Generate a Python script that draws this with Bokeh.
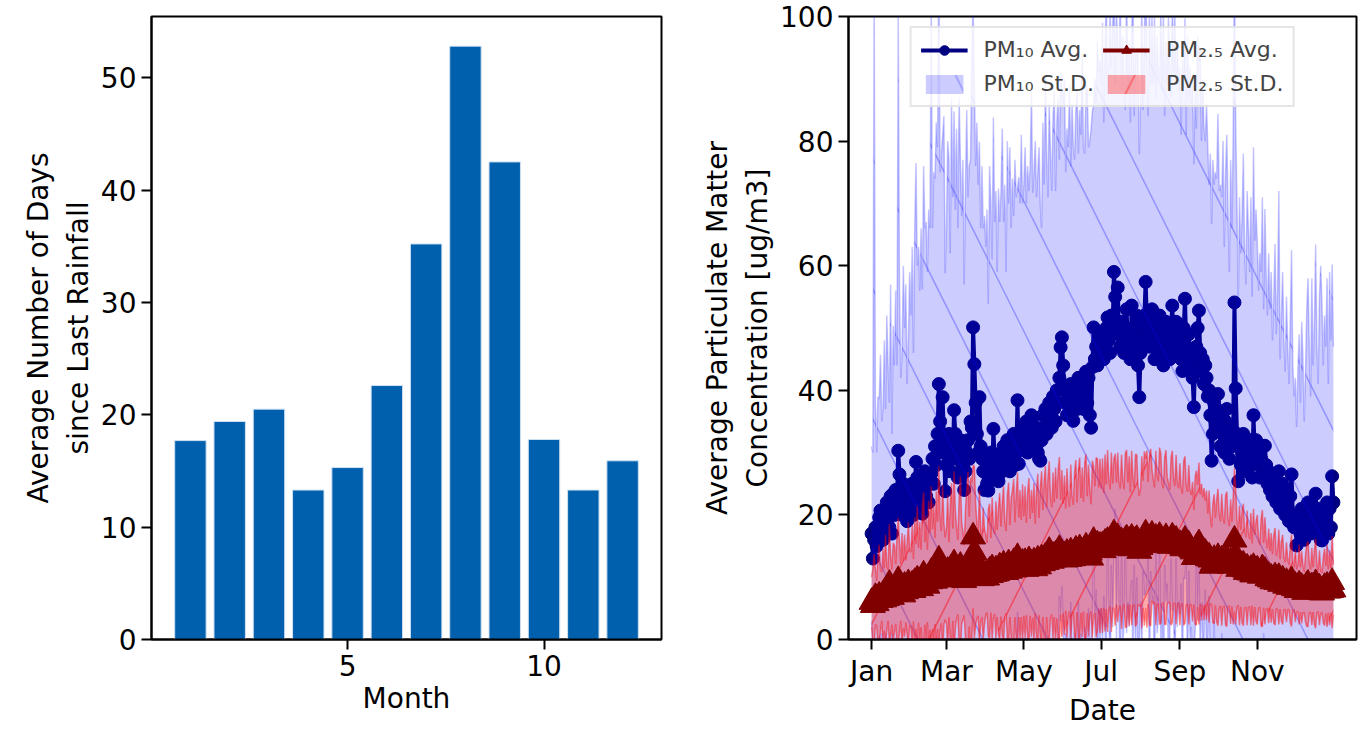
import numpy as np
from bokeh.plotting import figure
from bokeh.layouts import row
from bokeh.models import Range1d, FixedTicker, Legend, LegendItem, ColumnDataSource
from bokeh.embed import file_html
from bokeh.resources import INLINE

# ---------------- left panel data ----------------
months = [1, 2, 3, 4, 5, 6, 7, 8, 9, 10, 11, 12]
days_since_rain = [17.7, 19.4, 20.5, 13.3, 15.3, 22.6, 35.2, 52.8, 42.5, 17.8, 13.3, 15.9]

# ---------------- right panel data (daily, day-of-year index) ----------------
month_tick_days = [0, 59, 120, 181, 243, 304]
month_tick_labels = ["Jan", "Mar", "May", "Jul", "Sep", "Nov"]

pm10_avg = (
    [17,13,16,18,15,17,19.6,20.7,18,16,20,19,22,21,18,23,17,23.4,20,24,22,30.3,26.5,21,20,25,22,24,19,21,23]
    + [22,25,20,24,28.5,26,23,25,21,20.2,24,27,23,26,22,25,26.6,29,25,31,28,33,41,35,30,38.9,32,23.8]
    + [28,30,33,27,31,29,36.8,33,30,26,29,32,31,28,24,27,30,32,29,35,34,50.1,44.2,38,33,30,38.9,31,29,27,24]
    + [27,25,23.9,28,30,26,33.8,29,27,26,25.4,28,30,27,31,29,28,32,30,27,29,31,33,28,30,38.4,28.2,32,31,34]
    + [33,31,35,30,34,32,36,35.7,33,31,34,30,29,28.7,32,36,34,37,33,35,38,36,34,39,37,35,40,38,42,46.9,48.5]
    + [44,40,38,36,39,37,41,38,35.1,39,40,37,42,38,41,39,37,40,43,38,42,36,34,43.7,50.1,45,47,44,48,46]
    + [47,49,45,48,50,51.7,48,46,52,50,59,55,50,56.5,49,47,51,48,46,50,53,47,49,45,53.6,50,48,46,52,44,38.9]
    + [46,50,48,52,57.4,51,49,47,50,53,48,45,51,49,47,52,50,46,44,48,51,49,47,45,50,53.6,48,46,51,49,47]
    + [48,45,43.1,50,54.7,47,45,49,46,44,42,37.3,45,47,50,52.8,46,43,45,41,44,42,39,40,36,28.7,33,38,35,37]
    + [39.4,34,31,36,33,30,35,37,32,29,34,31,33,54.1,40.3,33,25.4,31,28,30,33,29,27,31,30,28,32,26,36,30,32]
    + [30,28,26,29,31,27,31.1,28,25,27,24,26,23,25,26.5,22,24,27,21,23,25,22,20,24,21,19,23,26.5,20,18]
    + [19,15.1,18,20,17,21,19,16,18,20,22,19,17,21,18,20,23.4,19,17,21,16,15.9,18,20,19,22,17,21,18,26.2,22]
)

pm10_sd = (
    [14,17,88,20,15,22,19,25,17,21,28,18,30,23,20,34,16,27,24,32,22,70,30,21,26,35,28,33,22,27,36]
    + [30,38,26,42,48,34,40,31,45,36,52,39,44,33,47,41,75,37,50,43,55,46,68,40,48,42,52,35]
    + [38,50,44,35,56,42,48,36,52,40,58,45,37,49,33,46,55,39,47,42,60,52,45,38,50,43,41,35,47,39,44]
    + [36,44,30,48,40,35,50,38,45,33,47,39,42,55,36,44,31,48,40,52,37,43,35,49,41,34,46,38,50,36]
    + [40,48,35,46,38,44,52,36,42,49,37,45,50,41,34,47,39,53,44,36,48,42,38,45,51,37,43,49,35,44,40]
    + [42,50,37,46,40,52,35,48,44,38,45,51,36,47,40,55,42,38,46,50,37,44,48,41,36,45,39,52,43,47]
    + [42,50,38,47,53,36,44,55,40,48,46,34,51,39,45,56,37,49,43,35,52,41,47,38,44,54,36,48,42,50,39]
    + [40,52,37,45,50,43,35,54,39,47,41,55,36,48,44,38,51,42,57,36,45,40,53,46,37,49,43,55,38,47,41]
    + [44,36,50,40,45,34,52,38,46,42,48,39,44,35,47,40,49,37,45,41,36,44,40,33,42,38,44,35,40,37]
    + [45,38,42,35,47,33,40,44,36,30,43,35,48,56,42,37,28,40,34,38,45,33,30,41,36,31,39,29,43,34,37]
    + [34,28,36,30,40,26,38,31,27,35,29,33,25,30,37,27,32,45,24,29,34,26,23,31,26,22,28,36,24,21]
    + [23,19,25,29,21,30,26,19,25,33,36,28,22,37,26,30,40,28,24,34,44,38,26,32,28,36,24,38,30,34,25]
)

pm25_avg = (
    [6.0,5.5,6.2,6.8,5.8,6.5,7.0,6.3,6.9,7.2,6.4,7.8,6.6,7.1,8.9,7.0,6.8,7.5,8.2,7.3,7.9,9.5,8.4,7.6,8.0,7.2,8.6,7.7,8.1,9.0,8.3]
    + [8.0,8.8,7.9,9.2,8.5,9.6,8.7,9.1,8.2,9.8,10.4,9.0,9.5,8.6,10.1,9.3,10.8,9.7,10.2,9.4,11.0,10.3,12.8,10.6,10.0,11.4,10.5,9.8]
    + [10.2,11.0,9.6,10.8,11.5,10.4,12.2,11.3,10.6,10.0,11.1,11.8,10.7,10.2,9.5,10.5,11.2,11.9,10.9,12.0,12.6,16.5,14.0,12.1,11.0,10.4,11.6,10.2,9.8,10.6,10.1]
    + [10.4,9.9,10.7,11.0,10.3,11.4,10.8,10.5,11.2,10.6,11.0,11.7,10.9,11.3,12.0,11.1,10.8,11.6,12.2,11.0,11.5,11.9,12.4,11.2,11.8,13.2,11.6,12.0,11.4,12.3]
    + [11.8,12.4,11.3,12.0,12.7,11.6,12.2,11.9,12.5,11.4,12.1,12.8,11.7,12.3,13.0,12.2,12.6,13.3,12.4,12.9,14.2,13.1,12.6,13.4,12.8,13.6,13.0,13.5,14.5,13.2,13.8]
    + [13.0,13.5,12.8,13.9,13.3,12.9,14.1,13.4,13.0,13.7,14.4,13.2,13.8,14.6,13.5,14.0,13.3,14.2,14.9,13.6,14.3,13.9,13.1,14.5,15.8,14.4,14.8,15.2,14.6,15.0]
    + [14.6,15.1,14.3,15.5,14.9,15.8,15.2,14.7,15.6,15.0,17.0,16.0,15.4,16.4,15.1,14.8,15.7,15.3,14.9,15.9,16.2,15.4,15.8,14.6,16.3,15.6,15.0,15.9,16.1,15.2,14.2]
    + [14.8,15.6,15.3,16.2,17.0,16.1,15.5,15.9,16.4,16.8,15.7,15.2,16.3,16.0,15.6,16.6,16.2,15.4,15.1,15.8,16.4,15.9,15.5,15.0,15.7,16.5,15.8,15.2,16.0,15.4,15.1]
    + [15.3,14.9,14.6,15.5,16.0,15.1,14.7,15.2,14.8,14.4,14.1,13.2,14.3,14.7,15.0,15.4,14.5,14.0,14.2,13.7,13.9,13.5,13.0,13.3,12.8,11.8,12.3,12.9,12.5,12.6]
    + [13.2,12.6,12.2,12.8,12.4,12.0,12.7,12.9,12.3,11.8,12.5,12.1,12.6,16.0,13.4,12.2,11.3,11.9,11.4,11.7,12.0,11.2,10.8,11.5,11.1,10.7,11.3,10.4,11.6,11.0,10.9]
    + [11.2,10.6,10.2,10.8,11.4,10.3,11.0,10.5,9.8,10.2,9.6,9.9,9.3,9.7,10.1,9.2,9.5,10.0,8.9,9.3,9.6,9.0,8.6,9.2,8.8,8.4,8.9,9.5,8.5,8.2]
    + [8.6,7.9,8.3,8.8,8.0,8.4,8.1,7.6,8.2,8.7,8.9,8.3,7.8,8.5,8.0,8.4,9.0,8.2,7.7,8.3,7.6,7.5,7.9,8.4,8.0,8.6,7.8,8.3,7.9,9.2,8.0]
)

pm25_sd = (
    [4.0,5.8,7.5,4.4,3.6,6.9,8.2,4.9,3.9,7.4,5.0,9.0,5.2,4.1,9.6,6.4,4.4,8.0,6.9,4.8,8.6,10.0,7.2,4.6,9.1,5.4,8.2,5.0,7.4,9.8,6.0]
    + [6.0,9.6,5.0,10.4,6.8,11.8,6.0,9.8,6.2,11.2,13.2,6.6,10.4,5.8,12.2,7.8,13.8,8.0,11.6,6.9,12.8,8.6,15.0,9.2,7.4,13.4,8.2,6.6]
    + [7.6,12.2,6.0,10.8,13.6,7.4,14.8,9.6,7.2,6.0,11.8,14.4,8.2,7.0,5.6,10.4,12.8,15.0,8.8,14.0,12.6,11.5,13.8,9.8,7.6,6.6,12.4,7.4,6.2,10.6,7.6]
    + [6.4,5.6,10.2,10.8,6.0,11.4,7.4,6.4,11.0,7.0,10.2,11.8,7.2,10.6,12.6,7.6,6.6,11.6,13.0,7.4,11.2,12.0,13.4,7.6,11.8,13.6,8.0,12.0,7.8,12.6]
    + [8.0,12.2,7.4,11.6,13.2,7.8,11.8,8.4,12.6,7.2,11.8,13.8,7.8,12.0,14.0,8.6,12.8,14.6,8.8,13.0,14.4,9.6,8.6,13.4,9.2,14.0,9.6,13.6,14.8,9.2,13.4]
    + [8.8,12.8,8.2,13.6,9.6,8.4,14.0,9.6,8.6,13.2,14.4,8.8,13.4,14.6,9.2,13.6,8.8,14.2,14.8,9.4,13.8,10.0,8.6,14.2,12.0,10.2,14.4,13.8,9.8,14.0]
    + [9.6,14.0,9.2,14.2,10.0,14.6,10.4,9.4,14.4,10.0,12.0,13.8,9.8,13.6,10.2,9.4,14.0,10.2,9.2,14.0,14.2,9.8,13.6,9.0,14.0,10.2,9.4,13.8,13.6,9.6,8.8]
    + [9.4,13.8,10.2,14.0,12.0,14.2,9.8,13.6,14.2,10.6,10.0,9.2,14.0,10.4,9.8,14.2,13.6,9.6,9.2,13.4,14.0,10.2,9.6,9.0,13.4,13.8,10.0,9.4,13.6,9.8,9.2]
    + [13.0,9.4,8.8,13.2,13.4,9.6,9.0,12.8,9.2,8.8,11.2,7.6,11.8,12.4,9.8,13.0,8.8,11.0,8.6,10.6,8.4,10.4,7.2,10.6,7.0,6.2,9.6,10.4,7.0,9.8]
    + [11.0,7.6,6.8,10.6,7.2,6.6,10.4,10.8,7.0,6.4,10.0,6.8,10.2,11.5,11.0,7.0,5.8,9.6,6.2,9.0,9.8,6.2,5.6,9.2,6.0,5.4,9.0,5.0,9.4,5.8,8.0]
    + [8.8,5.6,5.0,8.6,9.4,5.2,8.6,5.6,4.8,7.6,4.6,7.2,4.4,7.0,7.8,4.2,4.8,7.6,4.0,6.4,7.2,4.2,3.8,6.4,4.0,3.6,6.2,7.4,3.8,3.4]
    + [5.8,3.4,3.8,6.4,3.6,5.8,3.8,3.2,5.4,6.6,6.8,4.0,3.4,6.2,3.6,6.0,7.2,3.9,3.2,6.0,3.4,3.2,5.2,6.2,3.8,6.6,3.5,6.0,3.6,7.4,4.0]
)

n_days = len(pm10_avg)
day_index = list(range(n_days))

FONT = "DejaVu Sans"
FS = "28px"


def style(p):
    p.outline_line_color = "black"
    p.outline_line_width = 2
    p.xgrid.visible = False
    p.ygrid.visible = False
    for ax in (p.xaxis, p.yaxis):
        ax.axis_line_width = 2
        ax.major_tick_line_width = 2
        ax.major_tick_out = 10
        ax.major_tick_in = 0
        ax.minor_tick_line_color = None
        ax.major_label_text_font = FONT
        ax.major_label_text_font_size = FS
        ax.major_label_text_color = "black"
        ax.axis_label_text_font = FONT
        ax.axis_label_text_font_size = FS
        ax.axis_label_text_font_style = "normal"
        ax.axis_label_text_color = "black"
        ax.major_label_standoff = 5
        ax.axis_label_standoff = 3


# ---------------- left figure ----------------
p1 = figure(width=695, height=729, output_backend="svg", toolbar_location=None,
            x_range=Range1d(0.01, 12.99), y_range=Range1d(0, 55.44),
            min_border_left=151, min_border_right=34, min_border_top=16, min_border_bottom=90)
p1.vbar(x=months, top=days_since_rain, width=0.8, fill_color="#0060ad",
        line_color="#cfe0f2", line_width=1)
style(p1)
p1.xaxis.ticker = FixedTicker(ticks=[5, 10])
p1.yaxis.ticker = FixedTicker(ticks=[0, 10, 20, 30, 40, 50])
p1.xaxis.axis_label = "Month"
p1.yaxis.axis_label = "Average Number of Days\nsince Last Rainfall"

# ---------------- right figure ----------------
a10 = np.array(pm10_avg, dtype=float)
s10 = np.array(pm10_sd, dtype=float)
a25 = np.array(pm25_avg, dtype=float)
s25 = np.array(pm25_sd, dtype=float)
src = ColumnDataSource(dict(x=day_index, a10=a10, lo10=a10 - s10, hi10=a10 + s10,
                            a25=a25, lo25=a25 - s25, hi25=a25 + s25))

p2 = figure(width=667, height=729, output_backend="svg", toolbar_location=None,
            x_range=Range1d(-18.2, 382.2), y_range=Range1d(0, 100),
            min_border_left=153, min_border_right=6, min_border_top=16, min_border_bottom=90)
style(p2)

# PM10 average (drawn first, band overlays it)
r10_line = p2.line("x", "a10", source=src, line_color="#000080", line_width=4)
r10_pts = p2.scatter("x", "a10", source=src, marker="circle", size=13,
                     fill_color="#000080", line_color="#000080")

# PM10 band
r10_band = p2.varea("x", y1="lo10", y2="hi10", source=src, fill_color="#0000ff", fill_alpha=0.2,
                    hatch_pattern="\\", hatch_color="#0000ff", hatch_alpha=0.28,
                    hatch_scale=130, hatch_weight=1.5)
p2.line("x", "hi10", source=src, line_color="#0000ff", line_alpha=0.22, line_width=1.5)
p2.line("x", "lo10", source=src, line_color="#0000ff", line_alpha=0.22, line_width=1.5)

# PM2.5 band
r25_band = p2.varea("x", y1="lo25", y2="hi25", source=src, fill_color="#ff0000", fill_alpha=0.33,
                    hatch_pattern="/", hatch_color="#ff0000", hatch_alpha=0.45,
                    hatch_scale=130, hatch_weight=1.5)
p2.line("x", "hi25", source=src, line_color="#ff0000", line_alpha=0.45, line_width=1.5)
p2.line("x", "lo25", source=src, line_color="#ff0000", line_alpha=0.45, line_width=1.5)

# PM2.5 average
r25_line = p2.line("x", "a25", source=src, line_color="#800000", line_width=4)
r25_pts = p2.scatter("x", "a25", source=src, marker="triangle", size=25,
                     fill_color="#800000", line_color="#800000")

p2.xaxis.ticker = FixedTicker(ticks=month_tick_days)
p2.xaxis.major_label_overrides = {d: l for d, l in zip(month_tick_days, month_tick_labels)}
p2.yaxis.ticker = FixedTicker(ticks=[0, 20, 40, 60, 80, 100])
p2.xaxis.axis_label = "Date"
p2.yaxis.axis_label = "Average Particulate Matter\nConcentration [ug/m3]"

legend = Legend(items=[
    LegendItem(label="PM₁₀ Avg.", renderers=[r10_line, r10_pts]),
    LegendItem(label="PM₁₀ St.D.", renderers=[r10_band]),
    LegendItem(label="PM₂.₅ Avg.", renderers=[r25_line, r25_pts]),
    LegendItem(label="PM₂.₅ St.D.", renderers=[r25_band]),
], location="top_center", ncols=2)
legend.label_text_font = FONT
legend.label_text_font_size = "22px"
legend.glyph_width = 47
legend.glyph_height = 24
legend.label_standoff = 16
legend.spacing = 9
legend.padding = 9
legend.margin = 10
legend.border_line_color = "#cccccc"
legend.border_line_width = 2
legend.background_fill_alpha = 0.8
p2.add_layout(legend)

layout = row(p1, p2)
open("out.html", "w").write(file_html(layout, INLINE))
